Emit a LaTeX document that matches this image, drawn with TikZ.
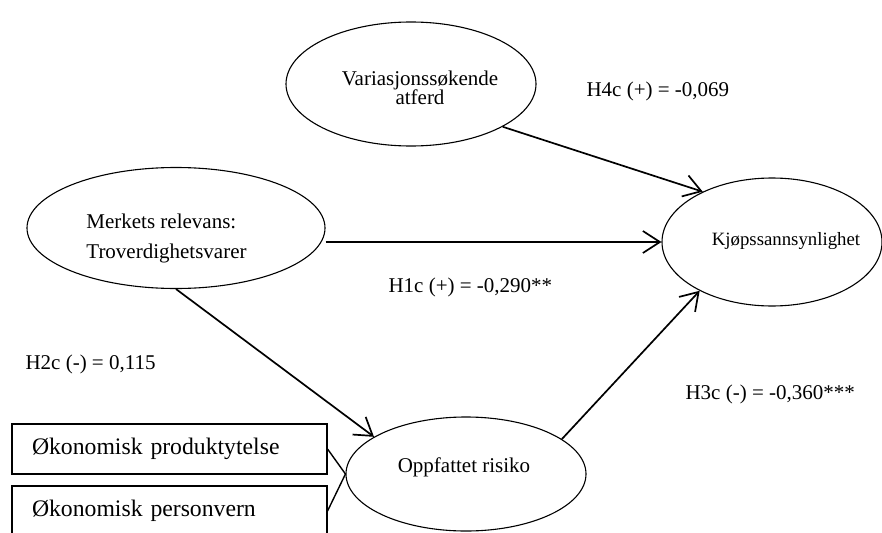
\documentclass[tikz,border=0pt]{standalone}
\usepackage{fontspec}
\setmainfont{Liberation Serif}
\usetikzlibrary{shapes.geometric,arrows.meta}
\begin{document}
\begin{tikzpicture}[x=1pt,y=-1pt,
  construct/.style={draw, ellipse, line width=1.1pt, inner sep=0pt},
  indicator/.style={draw, rectangle, line width=1.1pt, minimum height=50pt,
    text width=275pt, inner xsep=20pt, inner ysep=0pt, align=left,
    font=\fontsize{23.7}{28}\selectfont},
  effect/.style={line width=1.7pt, -{Straight Barb[length=17pt,width=22pt]}},
  tie/.style={line width=1.4pt},
  ctext/.style={font=\fontsize{21}{25}\selectfont},
  coef/.style={anchor=base west, font=\fontsize{21}{25}\selectfont}
]
\useasboundingbox (0,0) rectangle (882,532);

% latent constructs
\node[construct, minimum width=250pt, minimum height=124pt] (var)  at (411,84)  {};
\node[construct, minimum width=298pt, minimum height=121pt] (merk) at (176,228) {};
\node[construct, minimum width=220pt, minimum height=128pt] (kjop) at (772,242) {};
\node[construct, minimum width=240pt, minimum height=114pt] (oppf) at (466,474) {};

% construct labels
\node[align=center, font=\fontsize{21}{19.5}\selectfont] (vartxt) at (420,88)
  {Variasjonssøkende\\atferd};
\node[align=left, font=\fontsize{21}{30}\selectfont] (merktxt) at (166.5,238)
  {Merkets relevans:\\Troverdighetsvarer};
\node[anchor=base, font=\fontsize{18.8}{22}\selectfont] (kjoptxt) at (786,245) {Kjøpssannsynlighet};
\node[anchor=base, ctext] (oppftxt) at (464,472) {Oppfattet risiko};

% indicators
\node[indicator] (ind1) at (169.5,449) {Økonomisk produktytelse};
\node[indicator] (ind2) at (169.5,511) {Økonomisk personvern};

% structural paths
\draw[effect] (var.-25) -- (kjop.144);
\draw[effect] (merk.east |- kjop.west) -- (kjop.west);
\draw[effect] (merk.south) -- (oppf.158);
\draw[effect] (oppf.20) -- (kjop.214);
\draw[tie] (ind1.east) -- (oppf.west);
\draw[tie] (ind2.east) -- (oppf.west);

% path coefficients
\node[coef] (h4) at (583,97)  {H4c (+) = -0,069};
\node[coef] (h1) at (385,292) {H1c (+) = -0,290**};
\node[coef] (h2) at (22,369)  {H2c (-) = 0,115};
\node[coef] (h3) at (682,399) {H3c (-) = -0,360***};
\end{tikzpicture}
\end{document}
